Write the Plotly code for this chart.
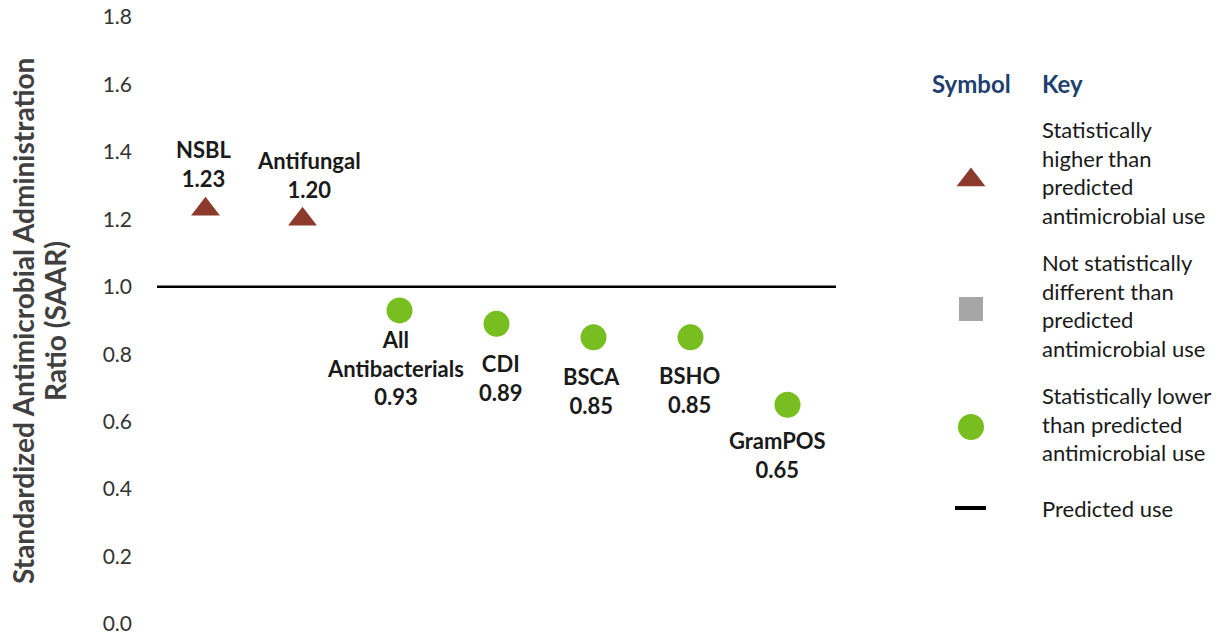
import plotly.graph_objects as go

# ---------------- data ----------------
categories = ["NSBL", "Antifungal", "All<br>Antibacterials", "CDI", "BSCA", "BSHO", "GramPOS"]
saar_values = [1.23, 1.20, 0.93, 0.89, 0.85, 0.85, 0.65]
significance = ["higher", "higher", "lower", "lower", "lower", "lower", "lower"]
predicted_use = 1.0
y_ticks = [0.0, 0.2, 0.4, 0.6, 0.8, 1.0, 1.2, 1.4, 1.6, 1.8]

legend_keys = ["higher", "same", "lower"]
legend_texts = [
    "Statistically<br>higher than<br>predicted<br>antimicrobial use",
    "Not statistically<br>different than<br>predicted<br>antimicrobial use",
    "Statistically lower<br>than predicted<br>antimicrobial use",
]
legend_line_text = "Predicted use"
y_title_lines = ["Standardized Antimicrobial Administration", "Ratio (SAAR)"]

# ---------------- styles ----------------
FONT = "Lato, Calibri, Carlito, sans-serif"
TEXT = "#1a1a1a"
NAVY = "#1F3F6E"
sym = {"higher": "triangle-up", "same": "square", "lower": "circle"}
col = {"higher": "#8B3A2B", "same": "#A6A6A6", "lower": "#78BE21"}
msize = {"higher": 25, "same": 24, "lower": 26}
# label offsets in px (xshift, yshift) relative to each point
label_offsets = [(-2, 45), (6, 44), (-4, -58), (4, -54), (-2, -54), (-1, -53), (-10, -50)]

W, H = 1225, 638
L, T, B = 157, 17, 14
plot_w = 836 - L
full_w = W - L
plot_h = H - T - B

fig = go.Figure()

# data points
fig.add_trace(go.Scatter(
    x=list(range(len(categories))), y=saar_values, mode="markers",
    marker=dict(symbol=[sym[s] for s in significance],
                color=[col[s] for s in significance], opacity=1,
                size=[msize[s] for s in significance], line=dict(width=0)),
    hoverinfo="skip", showlegend=False, xaxis="x", yaxis="y"))

# predicted use line
fig.add_shape(type="line", xref="x domain", yref="y", x0=0, x1=1,
              y0=predicted_use, y1=predicted_use, line=dict(color="black", width=2.5))

# point labels
for i, (c, v) in enumerate(zip(categories, saar_values)):
    dx, dy = label_offsets[i]
    fig.add_annotation(x=i, y=v, xref="x", yref="y", text=f"<b>{c}<br>{v:.2f}</b>",
                       showarrow=False, xshift=dx, yshift=dy, yanchor="middle",
                       font=dict(family=FONT, size=22, color=TEXT), align="center")

# ---------------- legend (secondary pixel-like axes) ----------------
leg_y = [180, 309, 427]
leg_text_y = [172, 305, 424]
fig.add_trace(go.Scatter(
    x=[131] * 3, y=leg_y, mode="markers",
    marker=dict(symbol=[sym[k] for k in legend_keys], color=[col[k] for k in legend_keys],
                opacity=1, size=[msize[k] for k in legend_keys], line=dict(width=0)),
    hoverinfo="skip", showlegend=False, xaxis="x2", yaxis="y2"))
fig.add_shape(type="line", xref="x2", yref="y2", x0=115, x1=146, y0=508, y1=508,
              line=dict(color="black", width=4))

fig.add_annotation(x=131, y=83, xref="x2", yref="y2", text="<b>Symbol</b>", showarrow=False,
                   xanchor="center", yanchor="middle", font=dict(family=FONT, size=24, color=NAVY))
fig.add_annotation(x=200, y=83, xref="x2", yref="y2", text="<b>Key</b>", showarrow=False,
                   xanchor="left", yanchor="middle", font=dict(family=FONT, size=24, color=NAVY))
for t, yy in zip(legend_texts, leg_text_y):
    fig.add_annotation(x=200, y=yy, xref="x2", yref="y2", text=t, showarrow=False,
                       xanchor="left", yanchor="middle", align="left",
                       font=dict(family=FONT, size=22, color=TEXT))
fig.add_annotation(x=200, y=508, xref="x2", yref="y2", text=legend_line_text, showarrow=False,
                   xanchor="left", yanchor="middle", align="left",
                   font=dict(family=FONT, size=22, color=TEXT))

# y-axis title (two rotated lines)
title_line_x = [23, 55]
title_center_y = 321
for txt, px in zip(y_title_lines, title_line_x):
    fig.add_annotation(xref="paper", yref="paper", x=(px - L) / full_w,
                       y=(H - B - title_center_y) / plot_h, text=f"<b>{txt}</b>",
                       textangle=-90, showarrow=False, xanchor="center", yanchor="middle",
                       font=dict(family=FONT, size=28, color="#404040"))

fig.update_layout(
    width=W, height=H, margin=dict(l=L, r=0, t=T, b=B, autoexpand=False),
    paper_bgcolor="white", plot_bgcolor="white",
    xaxis=dict(domain=[0, plot_w / full_w], range=[-0.5, 6.5], visible=False, automargin=False),
    yaxis=dict(range=[0, 1.8], tickvals=y_ticks, ticktext=[f"{v:.1f}" for v in y_ticks],
               showgrid=False, zeroline=False, showline=False, ticks="", automargin=False,
               ticklabeloverflow="allow",
               ticklabelstandoff=24, tickfont=dict(family=FONT, size=21, color="#333333")),
    xaxis2=dict(domain=[(840 - L) / full_w, 1], range=[0, 385], visible=False, anchor="y2",
                automargin=False),
    yaxis2=dict(domain=[0, 1], range=[H - B, T], visible=False, anchor="x2", automargin=False),
    showlegend=False,
)

fig.write_html("out.html", config={"displayModeBar": False},
               post_script="document.body.style.margin='0';")
